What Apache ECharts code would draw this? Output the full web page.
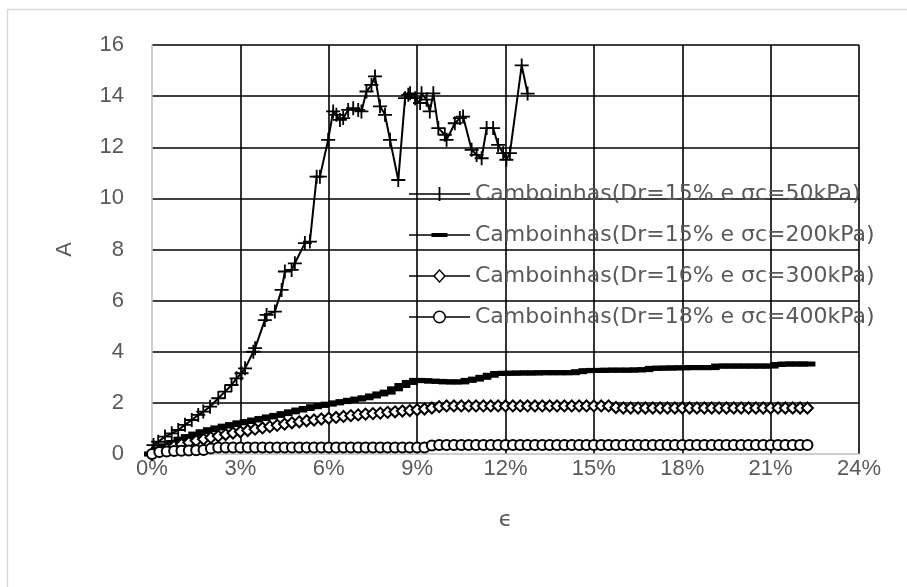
<!DOCTYPE html>
<html>
<head>
<meta charset="utf-8">
<script src="https://cdn.jsdelivr.net/npm/echarts@6/dist/echarts.min.js"></script>
<style>html,body{margin:0;padding:0;background:#fff;}#c{width:907px;height:587px;}</style>
</head>
<body>
<div id="c"></div>
<script>
// ---- Data ----
const seriesNames = [
  'Camboinhas(Dr=15% e σc=50kPa)',
  'Camboinhas(Dr=15% e σc=200kPa)',
  'Camboinhas(Dr=16% e σc=300kPa)',
  'Camboinhas(Dr=18% e σc=400kPa)'
];
const xTicks = [0, 3, 6, 9, 12, 15, 18, 21, 24];
const yTicks = [0, 2, 4, 6, 8, 10, 12, 14, 16];

const eps1 = [0,0.05,0.21,0.44,0.67,0.89,1.12,1.35,1.57,1.74,1.97,2.25,2.48,2.70,2.87,3.04,3.16,3.44,3.50,3.83,3.89,4.17,4.40,4.51,4.74,4.85,5.19,5.36,5.59,5.70,5.98,6.15,6.26,6.38,6.49,6.66,6.83,7.00,7.11,7.28,7.45,7.57,7.74,7.91,8.08,8.36,8.59,8.70,8.76,8.93,9.10,9.15,9.32,9.43,9.55,9.72,9.94,10.00,10.28,10.45,10.56,10.85,11.02,11.19,11.36,11.58,11.75,11.92,12.03,12.15,12.55,12.75];
const A1 = [0,0.35,0.48,0.68,0.81,0.94,1.14,1.33,1.53,1.66,1.85,2.18,2.44,2.70,2.96,3.16,3.35,4.00,4.14,5.24,5.44,5.57,6.42,7.14,7.20,7.46,8.25,8.31,10.85,10.85,12.29,13.40,13.27,13.07,13.14,13.46,13.53,13.46,13.40,14.18,14.44,14.77,13.60,13.27,12.29,10.72,13.92,14.05,14.11,13.92,13.73,14.11,13.86,13.40,14.11,12.75,12.49,12.29,12.94,13.14,13.20,11.90,11.70,11.57,12.75,12.75,12.09,11.77,11.51,11.77,15.20,14.10];

const eps = [0,0.25,0.5,0.75,1,1.25,1.5,1.75,2,2.25,2.5,2.75,3,3.25,3.5,3.75,4,4.25,4.5,4.75,5,5.25,5.5,5.75,6,6.25,6.5,6.75,7,7.25,7.5,7.75,8,8.25,8.5,8.75,9,9.25,9.5,9.75,10,10.25,10.5,10.75,11,11.25,11.5,11.75,12,12.25,12.5,12.75,13,13.25,13.5,13.75,14,14.25,14.5,14.75,15,15.25,15.5,15.75,16,16.25,16.5,16.75,17,17.25,17.5,17.75,18,18.25,18.5,18.75,19,19.25,19.5,19.75,20,20.25,20.5,20.75,21,21.25,21.5,21.75,22,22.25];
const A2 = [0,0.2,0.32,0.45,0.58,0.68,0.78,0.87,0.95,1.02,
  1.09,1.15,1.22,1.27,1.33,1.39,1.45,1.51,1.58,1.65,
  1.72,1.78,1.85,1.9,1.95,2.0,2.05,2.1,2.15,2.2,
  2.27,2.35,2.42,2.55,2.68,2.8,2.88,2.87,2.85,2.84,
  2.82,2.82,2.82,2.88,2.93,3.0,3.08,3.15,3.16,3.16,
  3.17,3.17,3.17,3.18,3.18,3.18,3.18,3.18,3.22,3.26,
  3.27,3.27,3.28,3.28,3.28,3.28,3.29,3.3,3.35,3.36,
  3.36,3.37,3.37,3.38,3.38,3.38,3.38,3.44,3.44,3.44,
  3.44,3.44,3.44,3.44,3.44,3.5,3.52,3.52,3.52,3.52];
const A3 = [0,0.1,0.2,0.3,0.38,0.45,0.52,0.58,0.64,0.7,
  0.76,0.82,0.87,0.92,0.97,1.02,1.07,1.12,1.17,1.22,
  1.26,1.3,1.33,1.37,1.4,1.43,1.47,1.5,1.53,1.56,
  1.58,1.6,1.63,1.65,1.68,1.7,1.73,1.76,1.8,1.85,
  1.88,1.88,1.88,1.88,1.88,1.88,1.88,1.88,1.88,1.88,
  1.88,1.88,1.88,1.88,1.88,1.88,1.88,1.88,1.88,1.88,
  1.88,1.88,1.88,1.82,1.8,1.8,1.8,1.8,1.8,1.8,
  1.8,1.8,1.8,1.8,1.8,1.8,1.8,1.8,1.8,1.8,
  1.8,1.8,1.8,1.8,1.8,1.8,1.8,1.8,1.8,1.8];
const A4 = [0,0.08,0.1,0.12,0.13,0.14,0.15,0.16,0.22,0.25,
  0.25,0.25,0.25,0.25,0.25,0.25,0.25,0.25,0.25,0.25,
  0.25,0.25,0.25,0.25,0.25,0.25,0.25,0.25,0.25,0.25,
  0.25,0.25,0.25,0.25,0.25,0.25,0.25,0.25,0.33,0.35,
  0.35,0.35,0.35,0.35,0.35,0.35,0.35,0.35,0.35,0.35,
  0.35,0.35,0.35,0.35,0.35,0.35,0.35,0.35,0.35,0.35,
  0.35,0.35,0.35,0.35,0.35,0.35,0.35,0.35,0.35,0.35,
  0.35,0.35,0.35,0.35,0.35,0.35,0.35,0.35,0.35,0.35,
  0.35,0.35,0.35,0.35,0.35,0.35,0.35,0.35,0.35,0.35];

// ---- Styling ----
const FONT = 'Liberation Sans';
const LFONT = 'DejaVu Sans';
const GRAY = '#595959';
const plusPath = 'path://M4.35,0h1.3v4.35h4.35v1.3h-4.35v4.35h-1.3v-4.35h-4.35v-1.3h4.35z';
const legendIcons = [
  'path://M0,6.2H29.6V0H31.4V6.2H61V7.8H31.4V14H29.6V7.8H0Z',
  'path://M0,6.2H22.5V5H38.5V6.2H61V7.8H38.5V9H22.5V7.8H0Z',
  'path://M0,6.2H24.6V7.8H0Z M30.5,0L37,7L30.5,14L24,7Z M30.5,2.1L26.1,7L30.5,11.9L34.9,7Z M36.4,6.2H61V7.8H36.4Z',
  'path://M0,6.2H24.2V7.8H0Z M24,7A6.5,6.5 0 1,1 37,7A6.5,6.5 0 1,1 24,7Z M25.5,7A5,5 0 1,0 35.5,7A5,5 0 1,0 25.5,7Z M36.8,6.2H61V7.8H36.8Z'
];

const pair = (xs, ys) => xs.map((x, i) => [x, ys[i]]);

const chart = echarts.init(document.getElementById('c'), null, {renderer: 'canvas'});
chart.setOption({
  animation: false,
  backgroundColor: '#fff',
  graphic: [{
    type: 'rect', silent: true, z: -10,
    shape: {x: 7.5, y: 9.5, width: 1200, height: 1200},
    style: {fill: 'none', stroke: '#d9d9d9', lineWidth: 1.5}
  }],
  grid: {left: 152, right: 48, top: 45, bottom: 133, containLabel: false},
  legend: {
    orient: 'vertical',
    left: 404, top: 177,
    itemWidth: 61, itemHeight: 14, itemGap: 17,
    itemStyle: {borderWidth: 0},
    textStyle: {fontFamily: LFONT, fontSize: 22, color: GRAY, lineHeight: 24, padding: [0, 0, 0, 0]},
    data: seriesNames.map((n, i) => ({name: n, icon: legendIcons[i]}))
  },
  xAxis: {
    type: 'value', min: xTicks[0], max: xTicks[xTicks.length - 1], interval: 3,
    name: 'ϵ', nameLocation: 'middle', nameGap: 55,
    nameTextStyle: {fontFamily: LFONT, fontSize: 22, color: GRAY},
    axisLine: {show: true, lineStyle: {color: '#bfbfbf', width: 1.5}},
    axisTick: {show: false},
    axisLabel: {fontFamily: FONT, fontSize: 22, color: GRAY, margin: 4, formatter: '{value}%'},
    splitLine: {show: true, showMinLine: false, lineStyle: {color: '#000', width: 1.6}}
  },
  yAxis: {
    type: 'value', min: yTicks[0], max: yTicks[yTicks.length - 1], interval: 2,
    name: 'A', nameLocation: 'middle', nameGap: 76, nameRotate: 90,
    nameTextStyle: {fontFamily: FONT, fontSize: 22, color: GRAY},
    axisLine: {show: true, lineStyle: {color: '#bfbfbf', width: 1.5}},
    axisTick: {show: false},
    axisLabel: {fontFamily: FONT, fontSize: 22, color: GRAY, margin: 28},
    splitLine: {show: true, showMinLine: false, lineStyle: {color: '#000', width: 1.6}}
  },
  series: [
    {
      name: seriesNames[0], type: 'line', data: pair(eps1, A1),
      color: '#000', symbol: plusPath, symbolSize: 14, showAllSymbol: true,
      lineStyle: {color: '#000', width: 2}, itemStyle: {color: '#000', borderWidth: 0}
    },
    {
      name: seriesNames[1], type: 'line', data: pair(eps, A2),
      color: '#000', symbol: 'rect', symbolSize: [16, 5], showAllSymbol: true,
      lineStyle: {color: '#000', width: 2}, itemStyle: {color: '#000', borderWidth: 0}
    },
    {
      name: seriesNames[2], type: 'line', data: pair(eps, A3),
      color: '#000', symbol: 'emptyDiamond', symbolSize: 11, showAllSymbol: true,
      lineStyle: {color: '#000', width: 1.6}, itemStyle: {color: '#000', borderWidth: 1.5}
    },
    {
      name: seriesNames[3], type: 'line', data: pair(eps, A4),
      color: '#000', symbol: 'emptyCircle', symbolSize: 10, showAllSymbol: true,
      lineStyle: {color: '#000', width: 1.6}, itemStyle: {color: '#000', borderWidth: 1.5}
    }
  ]
});
</script>
</body>
</html>
